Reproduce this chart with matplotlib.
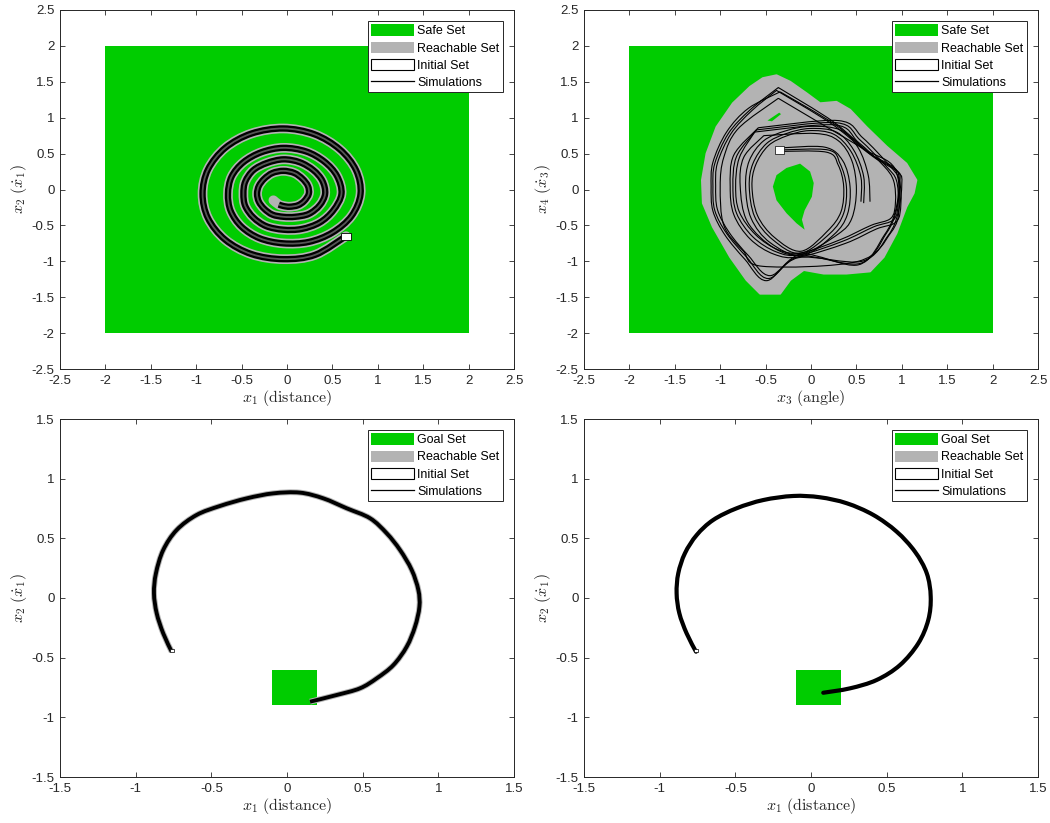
import matplotlib
matplotlib.use("Agg")
import numpy as np
import matplotlib.pyplot as plt
from matplotlib.patches import Patch, Rectangle, Polygon, PathPatch
from matplotlib.lines import Line2D
from matplotlib.path import Path

plt.rcParams['font.family'] = ['Liberation Sans', 'DejaVu Sans']
plt.rcParams['mathtext.fontset'] = 'cm'
plt.rcParams['axes.unicode_minus'] = False

GREEN = '#00cc00'
GRAY = '#b3b3b3'
AXC = '#262626'

# ---------------- data ----------------
# Safe / goal boxes: (xmin, xmax, ymin, ymax)
safe_box = (-2.0, 2.0, -2.0, 2.0)
goal_box = (-0.1, 0.2, -0.9, -0.6)

# Initial sets
init_top_left = (0.6, 0.7, -0.7, -0.6)
init_top_right = (-0.4, -0.3, 0.5, 0.6)
init_bottom = (-0.77, -0.75, -0.45, -0.43)

# Top-left: simulated trajectory in (x1, x2)
spiral_x = [0.65, 0.31, -0.04, -0.39, -0.68, -0.87, -0.93, -0.87, -0.68, -0.39, -0.04,
            0.30, 0.58, 0.76, 0.81, 0.71, 0.50, 0.24, -0.04,
            -0.30, -0.50, -0.62, -0.65, -0.61, -0.48, -0.28, -0.04,
            0.21, 0.41, 0.55, 0.60, 0.51, 0.36, 0.16, -0.04,
            -0.23, -0.37, -0.46, -0.48, -0.46, -0.37, -0.22, -0.04,
            0.14, 0.29, 0.39, 0.42, 0.36, 0.24, 0.09, -0.04,
            -0.16, -0.25, -0.31, -0.33, -0.31, -0.25, -0.16, -0.04,
            0.08, 0.17, 0.23, 0.24, 0.19, 0.12, 0.03, -0.04, -0.09]
spiral_y = [-0.65, -0.91, -0.97, -0.90, -0.70, -0.40, -0.06, 0.28, 0.58, 0.78, 0.85,
            0.77, 0.56, 0.27, -0.06, -0.37, -0.60, -0.73, -0.75,
            -0.68, -0.52, -0.30, -0.06, 0.18, 0.38, 0.52, 0.58,
            0.53, 0.39, 0.19, -0.06, -0.29, -0.46, -0.55, -0.56,
            -0.51, -0.39, -0.23, -0.06, 0.11, 0.27, 0.37, 0.42,
            0.38, 0.27, 0.12, -0.06, -0.22, -0.34, -0.38, -0.38,
            -0.35, -0.27, -0.17, -0.06, 0.05, 0.15, 0.23, 0.26,
            0.23, 0.15, 0.05, -0.06, -0.16, -0.22, -0.24, -0.23, -0.21]
spiral_tail_x = [-0.09, -0.15]
spiral_tail_y = [-0.21, -0.15]

# Top-right: reachable set outline and the uncovered pockets in (x3, x4)
reach_tr_x = [-0.38, -0.23, -0.05, 0.10, 0.28, 0.43, 0.61, 0.83, 1.05, 1.16, 1.13, 1.05,
              0.94, 0.80, 0.65, 0.39, 0.14, -0.08, -0.23, -0.34, -0.56, -0.71, -0.89,
              -1.08, -1.19, -1.20, -1.15, -1.04, -0.86, -0.67, -0.53]
reach_tr_y = [1.59, 1.50, 1.34, 1.20, 1.22, 1.11, 0.87, 0.60, 0.36, 0.13, -0.05, -0.24,
              -0.61, -0.94, -1.14, -1.17, -1.17, -1.12, -1.26, -1.45, -1.45, -1.26, -0.94,
              -0.52, -0.19, 0.13, 0.50, 0.87, 1.20, 1.43, 1.55]
hole_x = [-0.12, -0.27, -0.38, -0.42, -0.38, -0.27, -0.16, -0.07, -0.10, -0.07, 0.01, 0.03, -0.01]
hole_y = [0.36, 0.30, 0.20, 0.04, -0.15, -0.33, -0.47, -0.56, -0.42, -0.29, -0.10, 0.09, 0.25]
sliver_x = [-0.48, -0.35, -0.33, -0.43]
sliver_y = [0.96, 1.07, 1.05, 0.95]

# Top-right simulations (x3, x4)
sims_tr = [
    # inner loops leaving the initial set
    ([-0.36, 0.19, 0.32, 0.39, 0.36, 0.21, -0.12, -0.42, -0.62, -0.68, -0.64, -0.49, -0.27, -0.01, 0.28, 0.47, 0.58, 0.58],
     [0.55, 0.55, 0.36, 0.04, -0.33, -0.61, -0.89, -0.70, -0.38, 0.04, 0.36, 0.64, 0.78, 0.85, 0.80, 0.55, 0.18, -0.19]),
    ([-0.33, 0.15, 0.35, 0.43, 0.40, 0.25, -0.10, -0.45, -0.66, -0.72, -0.68, -0.52, -0.27, 0.00, 0.32, 0.52, 0.63, 0.65],
     [0.58, 0.59, 0.40, 0.04, -0.35, -0.63, -0.92, -0.74, -0.40, 0.04, 0.40, 0.68, 0.82, 0.88, 0.83, 0.58, 0.20, -0.17]),
    ([-0.38, 0.17, 0.30, 0.36, 0.33, 0.18, -0.11, -0.40, -0.59, -0.65, -0.61, -0.47, -0.26, -0.02, 0.25, 0.44, 0.55, 0.55],
     [0.53, 0.52, 0.34, 0.04, -0.31, -0.58, -0.86, -0.67, -0.36, 0.04, 0.34, 0.61, 0.75, 0.82, 0.77, 0.53, 0.17, -0.17]),
    # middle loops
    ([-0.60, 0.28, 0.54, 0.83, 0.94, 0.96, 0.91, 0.69, 0.35, -0.12, -0.38, -0.64, -0.82, -0.86, -0.82, -0.60],
     [0.83, 0.93, 0.69, 0.32, 0.13, -0.19, -0.42, -0.52, -0.72, -0.91, -0.87, -0.66, -0.33, 0.04, 0.46, 0.83]),
    ([-0.62, 0.26, 0.52, 0.80, 0.91, 0.93, 0.88, 0.66, 0.32, -0.10, -0.36, -0.61, -0.79, -0.83, -0.79, -0.62],
     [0.80, 0.90, 0.66, 0.33, 0.12, -0.18, -0.40, -0.50, -0.70, -0.88, -0.84, -0.63, -0.31, 0.04, 0.44, 0.80]),
    ([-0.58, 0.30, 0.57, 0.86, 0.97, 0.99, 0.94, 0.72, 0.38, -0.13, -0.41, -0.67, -0.85, -0.89, -0.85, -0.58],
     [0.86, 0.96, 0.72, 0.34, 0.14, -0.20, -0.45, -0.55, -0.75, -0.94, -0.90, -0.69, -0.35, 0.04, 0.48, 0.86]),
    ([-0.52, 0.05, 0.30, 0.45, 0.50, 0.45, 0.30, -0.10, -0.40, -0.70, -0.78, -0.74, -0.52],
     [0.75, 0.78, 0.68, 0.40, 0.00, -0.40, -0.62, -0.90, -0.82, -0.45, 0.05, 0.45, 0.75]),
    # outer loops
    ([-0.36, 0.25, 0.65, 0.94, 0.98, 0.94, 0.83, 0.54, -0.12, -0.47, -0.71, -0.93, -1.06, -1.08, -1.06, -0.91, -0.67, -0.36],
     [1.42, 0.94, 0.50, 0.27, 0.13, -0.29, -0.61, -1.03, -0.93, -1.24, -0.94, -0.61, -0.29, 0.04, 0.36, 0.78, 1.11, 1.42]),
    ([-0.38, 0.22, 0.62, 0.92, 0.97, 0.93, 0.81, 0.52, -0.10, -0.45, -0.69, -0.90, -1.03, -1.05, -1.03, -0.88, -0.65, -0.38],
     [1.38, 0.92, 0.52, 0.30, 0.10, -0.30, -0.63, -1.05, -0.90, -1.20, -0.92, -0.60, -0.28, 0.05, 0.37, 0.78, 1.10, 1.38]),
    ([-0.34, 0.27, 0.67, 0.96, 1.00, 0.96, 0.85, 0.56, -0.14, -0.49, -0.73, -0.95, -1.08, -1.10, -1.08, -0.93, -0.69, -0.34],
     [1.36, 0.90, 0.47, 0.24, 0.08, -0.32, -0.64, -1.00, -0.95, -1.27, -0.97, -0.63, -0.30, 0.04, 0.38, 0.80, 1.13, 1.36]),
    ([-0.36, 0.20, 0.60, 0.92, 0.97, 0.88, 0.52, -0.53, -0.75, -0.96, -1.00, -0.96, -0.80, -0.36],
     [1.27, 0.85, 0.55, 0.30, -0.25, -0.60, -1.00, -1.07, -0.85, -0.50, 0.04, 0.45, 0.85, 1.27]),
]

# Bottom-left: trajectory in (x1, x2)
traj_bl_x = [-0.762, -0.818, -0.861, -0.879, -0.866, -0.818, -0.729, -0.597, -0.443, -0.266,
             -0.090, 0.086, 0.240, 0.394, 0.549, 0.659, 0.747, 0.824, 0.868, 0.875,
             0.846, 0.791, 0.703, 0.593, 0.482, 0.328, 0.152]
traj_bl_y = [-0.450, -0.296, -0.128, 0.039, 0.207, 0.402, 0.570, 0.696, 0.771, 0.835,
             0.877, 0.883, 0.835, 0.752, 0.668, 0.542, 0.402, 0.235, 0.067, -0.073,
             -0.240, -0.408, -0.562, -0.673, -0.757, -0.813, -0.869]

# Bottom-right: trajectory in (x1, x2)
traj_br_x = [-0.760, -0.822, -0.870, -0.888, -0.877, -0.833, -0.755, -0.646, -0.491, -0.315,
             -0.117, 0.059, 0.236, 0.412, 0.566, 0.687, 0.765, 0.791, 0.775, 0.709,
             0.588, 0.434, 0.258, 0.081]
traj_br_y = [-0.450, -0.296, -0.128, 0.039, 0.207, 0.375, 0.528, 0.654, 0.752, 0.821,
             0.855, 0.844, 0.794, 0.696, 0.556, 0.388, 0.207, 0.011, -0.184, -0.380,
             -0.562, -0.687, -0.757, -0.794]

top_ticks = [-2.5, -2, -1.5, -1, -0.5, 0, 0.5, 1, 1.5, 2, 2.5]
bot_ticks = [-1.5, -1, -0.5, 0, 0.5, 1, 1.5]


def tick_text(v):
    return '%g' % v


def box_patch(b, **kw):
    return Rectangle((b[0], b[2]), b[1] - b[0], b[3] - b[2], **kw)


def smooth_path(xs, ys):
    """Cubic Bezier path passing through every sample (Catmull-Rom tangents)."""
    pts = np.column_stack([xs, ys]).astype(float)
    n = len(pts)
    verts = [pts[0]]
    codes = [Path.MOVETO]
    for i in range(n - 1):
        p0 = pts[max(i - 1, 0)]
        p1 = pts[i]
        p2 = pts[i + 1]
        p3 = pts[min(i + 2, n - 1)]
        verts += [p1 + (p2 - p0) / 6.0, p2 - (p3 - p1) / 6.0, p2]
        codes += [Path.CURVE4] * 3
    return Path(verts, codes)


def draw_curve(ax, xs, ys, color, lw, cap='butt'):
    ax.add_patch(PathPatch(smooth_path(xs, ys), facecolor='none', edgecolor=color,
                           lw=lw, capstyle=cap, joinstyle='round'))


def style_axes(ax, ticks, xlabel, ylabel):
    ax.set_xlim(ticks[0], ticks[-1])
    ax.set_ylim(ticks[0], ticks[-1])
    ax.set_xticks(ticks)
    ax.set_yticks(ticks)
    ax.set_xticklabels([tick_text(t) for t in ticks])
    ax.set_yticklabels([tick_text(t) for t in ticks])
    ax.tick_params(direction='in', length=3.5, width=0.6, color=AXC, labelcolor=AXC,
                   labelsize=9.5, top=True, right=True, pad=4)
    for s in ax.spines.values():
        s.set_color(AXC)
        s.set_linewidth(0.7)
    ax.set_xlabel(xlabel, fontsize=11.5, color=AXC, labelpad=1)
    ax.set_ylabel(ylabel, fontsize=11.5, color=AXC, labelpad=2)


def add_legend(ax, first):
    handles = [Patch(facecolor=GREEN, edgecolor='none', label=first),
               Patch(facecolor=GRAY, edgecolor='none', label='Reachable Set'),
               Patch(facecolor='white', edgecolor='black', linewidth=0.8, label='Initial Set'),
               Line2D([], [], color='black', linewidth=0.9, label='Simulations')]
    leg = ax.legend(handles=handles, loc='upper right', fontsize=9, fancybox=False,
                    framealpha=1, edgecolor=AXC, handlelength=3.4, handleheight=1.0,
                    handletextpad=0.3, labelspacing=0.35, borderpad=0.25,
                    borderaxespad=0.9)
    leg.get_frame().set_linewidth(0.7)


fig = plt.figure(figsize=(10.5, 8.23), dpi=100)
W, H = 1050, 823
pos = {
    'tl': [60 / W, 1 - 369 / H, 454 / W, 359 / H],
    'tr': [584 / W, 1 - 369 / H, 454 / W, 359 / H],
    'bl': [60 / W, 1 - 777 / H, 454 / W, 358 / H],
    'br': [584 / W, 1 - 777 / H, 454 / W, 358 / H],
}

# ---- top-left ----
ax = fig.add_axes(pos['tl'])
ax.add_patch(box_patch(safe_box, facecolor=GREEN, edgecolor='none'))
draw_curve(ax, spiral_x + spiral_tail_x[1:], spiral_y + spiral_tail_y[1:], GRAY, 7.0, 'round')
draw_curve(ax, spiral_x, spiral_y, 'black', 4.6)
draw_curve(ax, spiral_x, spiral_y, '#555555', 1.3)
ax.add_patch(box_patch(init_top_left, facecolor='white', edgecolor='black', lw=0.6))
style_axes(ax, top_ticks, r'$x_1\ \mathrm{(distance)}$', r'$x_2\ (\dot{x}_1)$')
add_legend(ax, 'Safe Set')

# ---- top-right ----
ax = fig.add_axes(pos['tr'])
ax.add_patch(box_patch(safe_box, facecolor=GREEN, edgecolor='none'))
ax.add_patch(Polygon(list(zip(reach_tr_x, reach_tr_y)), closed=True, facecolor=GRAY,
                     edgecolor=GRAY, lw=1.5, joinstyle='round'))
ax.add_patch(Polygon(list(zip(hole_x, hole_y)), closed=True, facecolor=GREEN, edgecolor='none'))
ax.add_patch(Polygon(list(zip(sliver_x, sliver_y)), closed=True, facecolor=GREEN, edgecolor='none'))
for sx, sy in sims_tr:
    draw_curve(ax, sx, sy, 'black', 0.8)
ax.add_patch(box_patch(init_top_right, facecolor='white', edgecolor='black', lw=0.5))
style_axes(ax, top_ticks, r'$x_3\ \mathrm{(angle)}$', r'$x_4\ (\dot{x}_3)$')
add_legend(ax, 'Safe Set')

# ---- bottom-left ----
ax = fig.add_axes(pos['bl'])
ax.add_patch(box_patch(goal_box, facecolor=GREEN, edgecolor='none'))
draw_curve(ax, traj_bl_x, traj_bl_y, GRAY, 4.2)
draw_curve(ax, traj_bl_x, traj_bl_y, 'black', 2.8)
ax.add_patch(box_patch(init_bottom, facecolor='white', edgecolor='black', lw=0.5))
style_axes(ax, bot_ticks, r'$x_1\ \mathrm{(distance)}$', r'$x_2\ (\dot{x}_1)$')
add_legend(ax, 'Goal Set')

# ---- bottom-right ----
ax = fig.add_axes(pos['br'])
ax.add_patch(box_patch(goal_box, facecolor=GREEN, edgecolor='none'))
draw_curve(ax, traj_br_x, traj_br_y, 'black', 3.0, 'round')
ax.add_patch(box_patch(init_bottom, facecolor='white', edgecolor='black', lw=0.5))
style_axes(ax, bot_ticks, r'$x_1\ \mathrm{(distance)}$', r'$x_2\ (\dot{x}_1)$')
add_legend(ax, 'Goal Set')

fig.savefig('out.png', dpi=100)
